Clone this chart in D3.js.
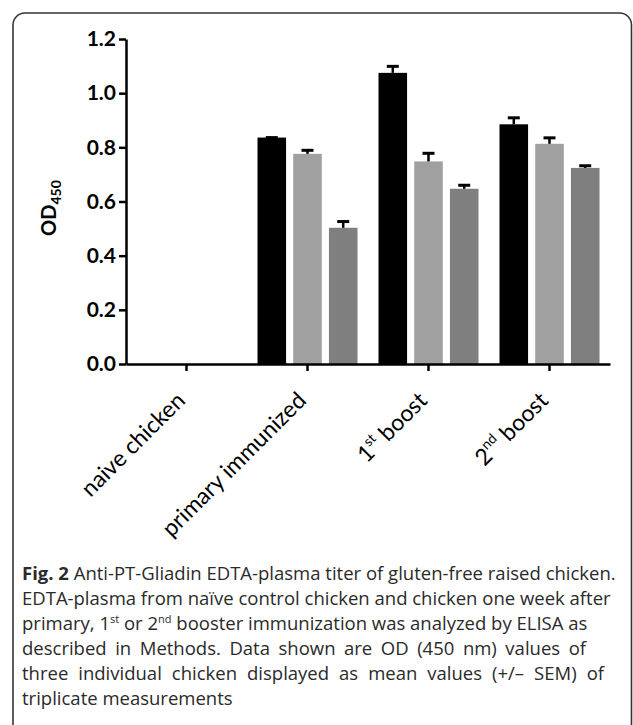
<!DOCTYPE html>
<html>
<head>
<meta charset="utf-8">
<script src="https://cdn.jsdelivr.net/npm/d3@7"></script>
<style>
  html, body { margin: 0; padding: 0; background: #fff; }
  svg { display: block; }
</style>
</head>
<body>
<svg id="chart" width="633" height="725"></svg>
<script>
// ---- data ----
const categories = ["naive chicken", "primary immunized", "1st boost", "2nd boost"];
const seriesNames = ["chicken 1", "chicken 2", "chicken 3"];
const seriesColors = ["#000000", "#a0a0a0", "#7f7f7f"];
const chicken1 = [0, 0.836, 1.075, 0.885];
const chicken2 = [0, 0.776, 0.748, 0.813];
const chicken3 = [0, 0.503, 0.647, 0.724];
const sem1 = [0, 0.0, 0.024, 0.024];
const sem2 = [0, 0.013, 0.03, 0.022];
const sem3 = [0, 0.023, 0.013, 0.008];
const yTicks = [0, 0.2, 0.4, 0.6, 0.8, 1.0, 1.2];
const captionLines = [
  [{t: "Fig. 2", b: true}, {t: " Anti-PT-Gliadin EDTA-plasma titer of gluten-free raised chicken."}],
  [{t: "EDTA-plasma from naïve control chicken and chicken one week after"}],
  [{t: "primary, 1"}, {t: "st", sup: true}, {t: " or 2"}, {t: "nd", sup: true}, {t: " booster immunization was analyzed by ELISA as"}],
  [{t: "described in Methods. Data shown are OD (450 nm) values of"}],
  [{t: "three individual chicken displayed as mean values (+/\u2013 SEM) of"}],
  [{t: "triplicate measurements"}]
];

// layout (line end positions of the justified caption)
const captionLineEnds = [null, null, 582, 586, 604, null];

const values = [chicken1, chicken2, chicken3];
const sems = [sem1, sem2, sem3];

const svg = d3.select("#chart");

// frame
svg.append("rect")
  .attr("x", 13).attr("y", 13)
  .attr("width", 618.5).attr("height", 760)
  .attr("rx", 12).attr("ry", 12)
  .attr("fill", "none").attr("stroke", "#333").attr("stroke-width", 1.6);

const x0 = d3.scaleBand().domain(categories).range([126, 610]).padding(0);
const x1 = d3.scaleBand().domain(seriesNames).range([-50, 50]).paddingInner(0.2).paddingOuter(0);
const y = d3.scaleLinear().domain([0, 1.2]).range([364, 39]);

// bars
const groups = svg.append("g").selectAll("g")
  .data(categories).join("g")
  .attr("transform", d => `translate(${x0(d) + x0.bandwidth() / 2},0)`);

seriesNames.forEach((s, si) => {
  groups.append("rect")
    .attr("x", x1(s))
    .attr("width", x1.bandwidth())
    .attr("y", (d, i) => y(values[si][i]))
    .attr("height", (d, i) => y(0) - y(values[si][i]))
    .attr("fill", seriesColors[si]);
  groups.each(function(d, i) {
    if (values[si][i] <= 0) return;
    const g = d3.select(this);
    const cx = x1(s) + x1.bandwidth() / 2;
    const top = y(values[si][i] + sems[si][i]);
    g.append("line")
      .attr("x1", cx).attr("x2", cx)
      .attr("y1", y(values[si][i])).attr("y2", top)
      .attr("stroke", "#000").attr("stroke-width", 2.5);
    g.append("line")
      .attr("x1", cx - 6).attr("x2", cx + 6)
      .attr("y1", top).attr("y2", top)
      .attr("stroke", "#000").attr("stroke-width", 3);
  });
});

// y axis
const yAxis = svg.append("g")
  .attr("transform", "translate(126,0)")
  .call(d3.axisLeft(y).tickValues(yTicks).tickFormat(d3.format(".1f")).tickSize(7).tickSizeOuter(0));
yAxis.select(".domain").attr("stroke-width", 2.5).attr("stroke", "#000");
yAxis.selectAll(".tick line").attr("stroke-width", 2.5).attr("stroke", "#000");
yAxis.selectAll(".tick text")
  .attr("font-family", "Lato, sans-serif")
  .attr("font-weight", 700)
  .attr("font-size", 21)
  .attr("fill", "#000")
  .attr("x", -10);

// x axis
const xAxis = svg.append("g")
  .attr("transform", `translate(0,${y(0)})`)
  .call(d3.axisBottom(x0).tickSize(7).tickSizeOuter(0).tickFormat(""));
xAxis.select(".domain").attr("stroke-width", 2.5).attr("stroke", "#000");
xAxis.selectAll(".tick line").attr("stroke-width", 2.5).attr("stroke", "#000");

// x labels
const xlab = svg.append("g").selectAll("text")
  .data(categories).join("text")
  .attr("transform", d => `translate(${x0(d) + x0.bandwidth() / 2},${y(0) + 38}) rotate(-45)`)
  .attr("text-anchor", "end")
  .attr("font-family", "Lato, sans-serif")
  .attr("font-size", 23)
  .attr("fill", "#000");
xlab.each(function(d) {
  const t = d3.select(this);
  const m = d.match(/^(\d)(st|nd)(.*)$/);
  if (m) {
    t.append("tspan").text(m[1]);
    t.append("tspan").text(m[2]).attr("font-size", 14).attr("dy", -10);
    t.append("tspan").text(m[3]).attr("dy", 10);
  } else {
    t.text(d);
  }
});

// y axis title
const yt = svg.append("text")
  .attr("transform", "translate(56,208) rotate(-90)")
  .attr("text-anchor", "middle")
  .attr("font-family", "Lato, sans-serif")
  .attr("font-weight", 700)
  .attr("font-size", 20)
  .attr("fill", "#000");
yt.append("tspan").text("OD");
yt.append("tspan").text("450").attr("font-size", 14).attr("dy", 5);

// caption
const cap = svg.append("g").attr("font-family", "'Open Sans', sans-serif").attr("font-size", 18.5).attr("fill", "#2a2a2a");
captionLines.forEach((line, li) => {
  const t = cap.append("text").attr("x", 22).attr("y", 580 + li * 25);
  line.forEach(seg => {
    const sp = t.append("tspan").text(seg.t);
    if (seg.b) sp.attr("font-weight", 700);
    if (seg.sup) { sp.attr("font-size", 11).attr("baseline-shift", "super"); }
  });
  const target = captionLineEnds[li];
  if (target) {
    const len = t.node().getComputedTextLength();
    const spaces = line.map(s => s.t).join("").split(" ").length - 1;
    const extra = (target - 22 - len) / spaces;
    if (extra > 0) t.attr("word-spacing", extra);
  }
});
</script>
</body>
</html>
